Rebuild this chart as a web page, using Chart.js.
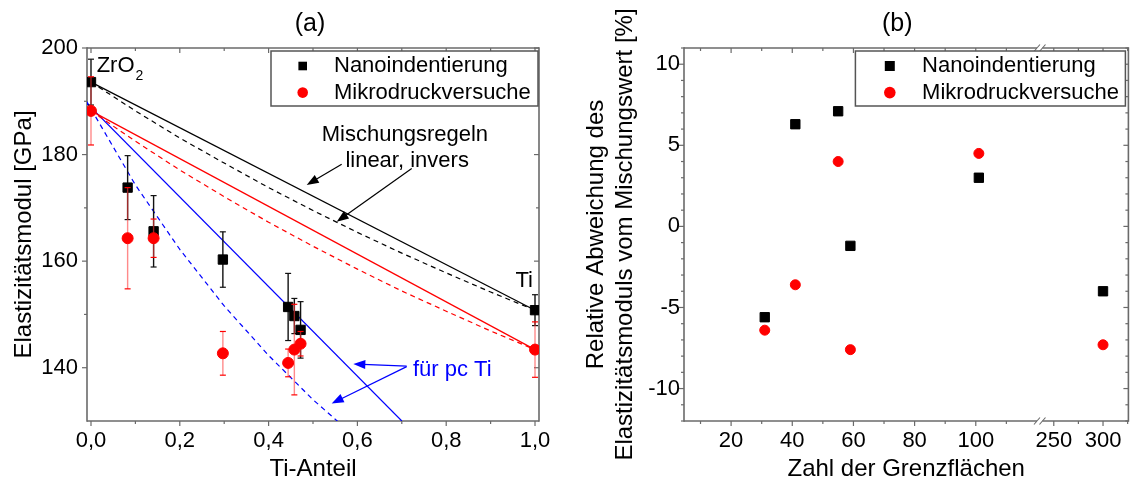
<!DOCTYPE html>
<html>
<head>
<meta charset="utf-8">
<script src="https://cdn.jsdelivr.net/npm/chart.js@4.4.1/dist/chart.umd.min.js"></script>
<style>
  html, body { margin: 0; padding: 0; background: #fff; }
  #wrap { position: relative; width: 1136px; height: 484px; }
  #wrap > div { position: absolute; top: 0; height: 484px; }
</style>
</head>
<body>
<div id="wrap">
  <div style="left:0;width:560px"><canvas id="chartA"></canvas></div>
  <div style="left:560px;width:576px"><canvas id="chartB"></canvas></div>
</div>
<script>
// ---------- (a) E-Modul über Ti-Anteil ----------
const tiAnteil  = [0.0, 0.0825, 0.141, 0.297, 0.444, 0.458, 0.472, 1.0];
const eNano     = [193.6, 173.8, 165.6, 160.3, 151.4, 149.7, 147.1, 150.8];
const eNanoErr  = [4.3, 6.0, 6.7, 5.2, 6.3, 3.3, 5.3, 2.9];
const eMikro    = [188.2, 164.3, 164.3, 142.7, 140.9, 143.4, 144.5, 143.4];
const eMikroErr = [6.4, 9.5, 3.6, 4.1, 2.6, 8.5, 2.3, 5.2];

// Mischungsregeln
const linearX     = [0, 1.0];
const nanoLinear  = [193.6, 150.8];
const mikroLinear = [188.2, 143.4];
const regelX      = [0, 0.1, 0.2, 0.3, 0.4, 0.5, 0.6, 0.7, 0.8, 0.9, 1.0];
const nanoInvers  = [193.6, 188.2, 183.1, 178.4, 173.8, 169.5, 165.4, 161.5, 157.8, 154.2, 150.8];
const mikroInvers = [188.2, 182.5, 177.1, 172.1, 167.3, 162.8, 158.5, 154.4, 150.6, 146.9, 143.4];
const pcTiLinX    = [-0.01, 0.70];
const pcTiLinear  = [189.7, 130.0];
const pcTiInvX    = [-0.01, 0.1, 0.2, 0.3, 0.4, 0.5, 0.56];
const pcTiInvers  = [190.0, 174.3, 162.2, 151.6, 142.3, 134.0, 129.6];

const xTicksA = [0, 0.2, 0.4, 0.6, 0.8, 1.0];
const yTicksA = [140, 160, 180, 200];

// ---------- (b) Abweichung über Zahl der Grenzflächen ----------
const grenzflaechen = [31, 41, 55, 59, 101, 300];
const abwNano       = [-5.6, 6.3, 7.1, -1.2, 3.0, -4.0];
const abwMikro      = [-6.4, -3.6, 4.0, -7.6, 4.5, -7.3];
const xTicksB = [20, 40, 60, 80, 100, 250, 300];
const yTicksB = [-10, -5, 0, 5, 10];

// Achsenbruch: bis 120 normal, ab ~238 gestaucht
function achseB(x) { return x <= 120 ? x : 121.8 + (x - 238.5) * 0.322; }

const pts = (xs, ys) => xs.map((x, i) => ({ x: x, y: ys[i] }));

Chart.defaults.font.family = "'Liberation Sans', Arial, sans-serif";
Chart.defaults.font.size = 22;
Chart.defaults.color = '#000';
Chart.defaults.animation = false;
Chart.defaults.events = [];
Chart.defaults.plugins.legend.display = false;
Chart.defaults.plugins.tooltip.enabled = false;

const FONT = "'Liberation Sans', Arial, sans-serif";

function linie(ctx, x1, y1, x2, y2) {
  ctx.beginPath(); ctx.moveTo(x1, y1); ctx.lineTo(x2, y2); ctx.stroke();
}

// Rahmen mit Haupt- und Nebenstrichen (unten/links aussen, oben/rechts innen)
const rahmenPlugin = {
  id: 'rahmen',
  beforeDatasetsDraw(chart, args, o) {
    const { ctx, chartArea: a } = chart;
    const xs = chart.scales.x, ys = chart.scales.y;
    ctx.save();
    ctx.strokeStyle = '#6a6a6a';
    ctx.lineWidth = 1.6;
    linie(ctx, a.left, a.top - 0.8, a.left, a.bottom + 0.8);
    linie(ctx, a.right, a.top - 0.8, a.right, a.bottom + 0.8);
    if (o.bruch) {
      const g1 = xs.getPixelForValue(o.bruch[0]), g2 = xs.getPixelForValue(o.bruch[1]);
      [a.top, a.bottom].forEach(y => {
        linie(ctx, a.left, y, g1, y);
        linie(ctx, g2, y, a.right, y);
        ctx.lineWidth = 1.1;
        linie(ctx, g1 - 3, y + 3.5, g1 + 3, y - 3.5);
        linie(ctx, g2 - 3, y + 3.5, g2 + 3, y - 3.5);
        ctx.lineWidth = 1.6;
      });
    } else {
      linie(ctx, a.left, a.top, a.right, a.top);
      linie(ctx, a.left, a.bottom, a.right, a.bottom);
    }
    ctx.lineWidth = 1.2;
    const xt = (v, l) => { const x = xs.getPixelForValue(v); linie(ctx, x, a.bottom, x, a.bottom + l); linie(ctx, x, a.top, x, a.top + l); };
    const yt = (v, l) => { const y = ys.getPixelForValue(v); linie(ctx, a.left - l, y, a.left, y); linie(ctx, a.right - l, y, a.right, y); };
    o.xMajor.forEach(v => xt(v, 5));
    o.xMinor.forEach(v => xt(v, 3));
    o.yMajor.forEach(v => yt(v, 5));
    o.yMinor.forEach(v => yt(v, 3));
    ctx.restore();
  }
};

// Fehlerbalken direkt vor dem jeweiligen Datensatz
const fehlerPlugin = {
  id: 'fehler',
  beforeDatasetDraw(chart, args) {
    const ds = chart.data.datasets[args.index];
    if (!ds.fehler) return;
    const { ctx } = chart;
    const xs = chart.scales.x, ys = chart.scales.y;
    ctx.save();
    ds.data.forEach((p, i) => {
      const e = ds.fehler[i];
      const x = xs.getPixelForValue(p.x);
      const y1 = ys.getPixelForValue(p.y + e), y2 = ys.getPixelForValue(p.y - e);
      ctx.strokeStyle = ds.fehlerFarbe; ctx.lineWidth = 1.4;
      linie(ctx, x, y1, x, y2);
      ctx.strokeStyle = ds.kappenFarbe; ctx.lineWidth = 1.2;
      linie(ctx, x - 3, y1, x + 3, y1);
      linie(ctx, x - 3, y2, x + 3, y2);
    });
    ctx.restore();
  }
};

function marke(ctx, stil, x, y, r, farbe) {
  ctx.fillStyle = farbe;
  ctx.beginPath();
  if (stil === 'rect') ctx.rect(x - r, y - r, 2 * r, 2 * r);
  else ctx.arc(x, y, r, 0, Math.PI * 2);
  ctx.fill();
}

// Legende im Diagramm mit Rahmen
const legendePlugin = {
  id: 'legende',
  afterDatasetsDraw(chart, args, o) {
    const { ctx, chartArea: a } = chart;
    const x0 = a.right - o.rechts - o.breite, y0 = a.top + 3;
    ctx.save();
    ctx.fillStyle = '#fff';
    ctx.fillRect(x0, y0, o.breite, 55);
    ctx.strokeStyle = '#555'; ctx.lineWidth = 1.5;
    ctx.strokeRect(x0, y0, o.breite, 55);
    ctx.font = '22px ' + FONT;
    ctx.textBaseline = 'middle';
    o.eintraege.forEach((di, k) => {
      const ds = chart.data.datasets[di];
      const y = y0 + 15 + k * 26.6;
      marke(ctx, ds.pointStyle, x0 + o.markeX, y, ds.pointStyle === 'rect' ? o.quadrat : o.kreis, ds.backgroundColor);
      ctx.fillStyle = '#000';
      ctx.fillText(ds.label, x0 + o.textX, y);
    });
    ctx.restore();
  }
};

const kopfPlugin = {
  id: 'kopf',
  afterDraw(chart, args, o) {
    const { ctx, chartArea: a } = chart;
    ctx.save();
    ctx.font = '25px ' + FONT;
    ctx.fillStyle = '#000';
    ctx.textAlign = 'center';
    ctx.textBaseline = 'middle';
    ctx.fillText(o.text, (a.left + a.right) / 2 + o.dx, 24);
    ctx.restore();
  }
};

// Beschriftungen und Pfeile in (a), in Datenkoordinaten
const texteA = [
  { text: 'Mischungsregeln', x: 0.707, y: 182.6, align: 'center', farbe: '#000' },
  { text: 'linear, invers',  x: 0.712, y: 177.6, align: 'center', farbe: '#000' },
  { text: 'für pc Ti',       x: 0.725, y: 138.5, align: 'left',   farbe: '#0000ff' },
  { text: 'Ti',              x: 0.9955, y: 155.2, align: 'right', farbe: '#000' }
];
const pfeileA = [
  { von: [0.5646, 178.2], nach: [0.4858, 174.3], farbe: '#000' },
  { von: [0.7223, 177.4], nach: [0.5534, 167.4], farbe: '#000' },
  { von: [0.711, 140.3],  nach: [0.5908, 140.7], farbe: '#0000ff' },
  { von: [0.711, 140.2],  nach: [0.5421, 133.3], farbe: '#0000ff' }
];

function pfeil(ctx, x1, y1, x2, y2, farbe) {
  const w = Math.atan2(y2 - y1, x2 - x1), l = 12, b = 4.5;
  const c = Math.cos(w), s = Math.sin(w);
  ctx.strokeStyle = farbe; ctx.fillStyle = farbe; ctx.lineWidth = 1.2;
  linie(ctx, x1, y1, x2 - l * 0.8 * c, y2 - l * 0.8 * s);
  ctx.beginPath();
  ctx.moveTo(x2, y2);
  ctx.lineTo(x2 - l * c + b * s, y2 - l * s - b * c);
  ctx.lineTo(x2 - l * c - b * s, y2 - l * s + b * c);
  ctx.closePath();
  ctx.fill();
}

const notizPlugin = {
  id: 'notiz',
  afterDatasetsDraw(chart) {
    const { ctx } = chart;
    const xs = chart.scales.x, ys = chart.scales.y;
    ctx.save();
    ctx.textBaseline = 'alphabetic';
    ctx.font = '22px ' + FONT;
    texteA.forEach(t => {
      ctx.fillStyle = t.farbe; ctx.textAlign = t.align;
      ctx.fillText(t.text, xs.getPixelForValue(t.x), ys.getPixelForValue(t.y));
    });
    // ZrO2 mit tiefgestellter 2
    const zx = xs.getPixelForValue(0.0128), zy = ys.getPixelForValue(195.5);
    ctx.fillStyle = '#000'; ctx.textAlign = 'left';
    ctx.fillText('ZrO', zx, zy);
    const w = ctx.measureText('ZrO').width;
    ctx.font = '14px ' + FONT;
    ctx.fillText('2', zx + w + 1, zy + 8);
    pfeileA.forEach(p => pfeil(ctx,
      xs.getPixelForValue(p.von[0]), ys.getPixelForValue(p.von[1]),
      xs.getPixelForValue(p.nach[0]), ys.getPixelForValue(p.nach[1]), p.farbe));
    ctx.restore();
  }
};

function regelLinie(xs, ys, farbe, dash) {
  return {
    data: pts(xs, ys), showLine: true, pointRadius: 0, borderColor: farbe,
    borderWidth: 1.2, borderDash: dash, fill: false, clip: 0
  };
}

new Chart(document.getElementById('chartA'), {
  type: 'scatter',
  data: {
    datasets: [
      { label: 'Mikrodruckversuche', data: pts(tiAnteil, eMikro), fehler: eMikroErr,
        fehlerFarbe: 'rgba(255,60,60,0.6)', kappenFarbe: '#ff0000',
        pointStyle: 'circle', pointRadius: 5.5, backgroundColor: '#ff0000', borderColor: '#ff0000', borderWidth: 1 },
      { label: 'Nanoindentierung', data: pts(tiAnteil, eNano), fehler: eNanoErr,
        fehlerFarbe: '#111', kappenFarbe: '#111',
        pointStyle: 'rect', pointRadius: 6.6, backgroundColor: '#000', borderColor: '#000', borderWidth: 1 },
      regelLinie(linearX, nanoLinear, '#000', []),
      regelLinie(regelX, nanoInvers, '#000', [5, 4]),
      regelLinie(linearX, mikroLinear, '#ff0000', []),
      regelLinie(regelX, mikroInvers, '#ff0000', [5, 4]),
      regelLinie(pcTiLinX, pcTiLinear, '#0000ff', []),
      regelLinie(pcTiInvX, pcTiInvers, '#0000ff', [5, 4])
    ]
  },
  options: {
    responsive: true,
    maintainAspectRatio: false,
    layout: { padding: { top: 48, right: 21, left: 0, bottom: 0 } },
    scales: {
      x: {
        type: 'linear', min: -0.009, max: 1.009,
        afterBuildTicks: s => { s.ticks = xTicksA.map(v => ({ value: v })); },
        afterFit: s => { s.height = 63; },
        grid: { display: false, drawTicks: false }, border: { display: false },
        ticks: { padding: 7, maxRotation: 0, autoSkip: false,
                 callback: v => v.toFixed(1).replace('.', ',') },
        title: { display: true, text: 'Ti-Anteil', font: { size: 24 }, padding: { top: 0, bottom: 0 } }
      },
      y: {
        type: 'linear', min: 130, max: 200,
        afterBuildTicks: s => { s.ticks = yTicksA.map(v => ({ value: v })); },
        afterFit: s => { s.width = 87; },
        grid: { display: false, drawTicks: false }, border: { display: false },
        ticks: { padding: 9, autoSkip: false },
        title: { display: true, text: 'Elastizitätsmodul [GPa]', font: { size: 24 }, padding: { top: 10, bottom: 0 } }
      }
    },
    plugins: {
      rahmen: { xMajor: xTicksA, xMinor: [0.1, 0.3, 0.5, 0.7, 0.9], yMajor: yTicksA, yMinor: [150, 170, 190] },
      legende: { eintraege: [1, 0], breite: 267, rechts: 1, markeX: 31.7, textX: 63, quadrat: 4.3, kreis: 5.3 },
      kopf: { text: '(a)', dx: -3 }
    }
  },
  plugins: [rahmenPlugin, fehlerPlugin, notizPlugin, legendePlugin, kopfPlugin]
});

const yMinorB = [];
for (let v = -12; v <= 11; v++) if (v % 5 !== 0) yMinorB.push(v);

new Chart(document.getElementById('chartB'), {
  type: 'scatter',
  data: {
    datasets: [
      { label: 'Mikrodruckversuche', data: pts(grenzflaechen.map(achseB), abwMikro),
        pointStyle: 'circle', pointRadius: 5, backgroundColor: '#ff0000', borderColor: '#ff0000', borderWidth: 1 },
      { label: 'Nanoindentierung', data: pts(grenzflaechen.map(achseB), abwNano),
        pointStyle: 'rect', pointRadius: 6.6, backgroundColor: '#000', borderColor: '#000', borderWidth: 1 }
    ]
  },
  options: {
    responsive: true,
    maintainAspectRatio: false,
    layout: { padding: { top: 48, right: 1, left: 0, bottom: 0 } },
    scales: {
      x: {
        type: 'linear', min: 4.6, max: 149.9,
        afterBuildTicks: s => { s.ticks = xTicksB.map(v => ({ value: achseB(v) })); },
        afterFit: s => { s.height = 63; },
        grid: { display: false, drawTicks: false }, border: { display: false },
        ticks: { padding: 7, maxRotation: 0, autoSkip: false,
                 callback: (v, i) => String(xTicksB[i]) },
        title: { display: true, text: 'Zahl der Grenzflächen', font: { size: 24 }, padding: { top: 0, bottom: 0 } }
      },
      y: {
        type: 'linear', min: -12, max: 11,
        afterBuildTicks: s => { s.ticks = yTicksB.map(v => ({ value: v })); },
        afterFit: s => { s.width = 124; },
        grid: { display: false, drawTicks: false }, border: { display: false },
        ticks: { padding: 4, autoSkip: false },
        title: { display: true, text: ['Relative Abweichung des', 'Elastizitätsmoduls vom Mischungswert [%]'],
                 font: { size: 24 }, padding: { top: 22, bottom: 0 } }
      }
    },
    plugins: {
      rahmen: { xMajor: xTicksB.map(achseB), xMinor: [10, 30, 50, 70, 90, 110, 275, 325].map(achseB),
                yMajor: yTicksB, yMinor: yMinorB, bruch: [120.0, 121.8] },
      legende: { eintraege: [1, 0], breite: 270, rechts: 3, markeX: 34.4, textX: 66.7, quadrat: 5, kreis: 5.8 },
      kopf: { text: '(b)', dx: -9 }
    }
  },
  plugins: [rahmenPlugin, legendePlugin, kopfPlugin]
});
</script>
</body>
</html>
